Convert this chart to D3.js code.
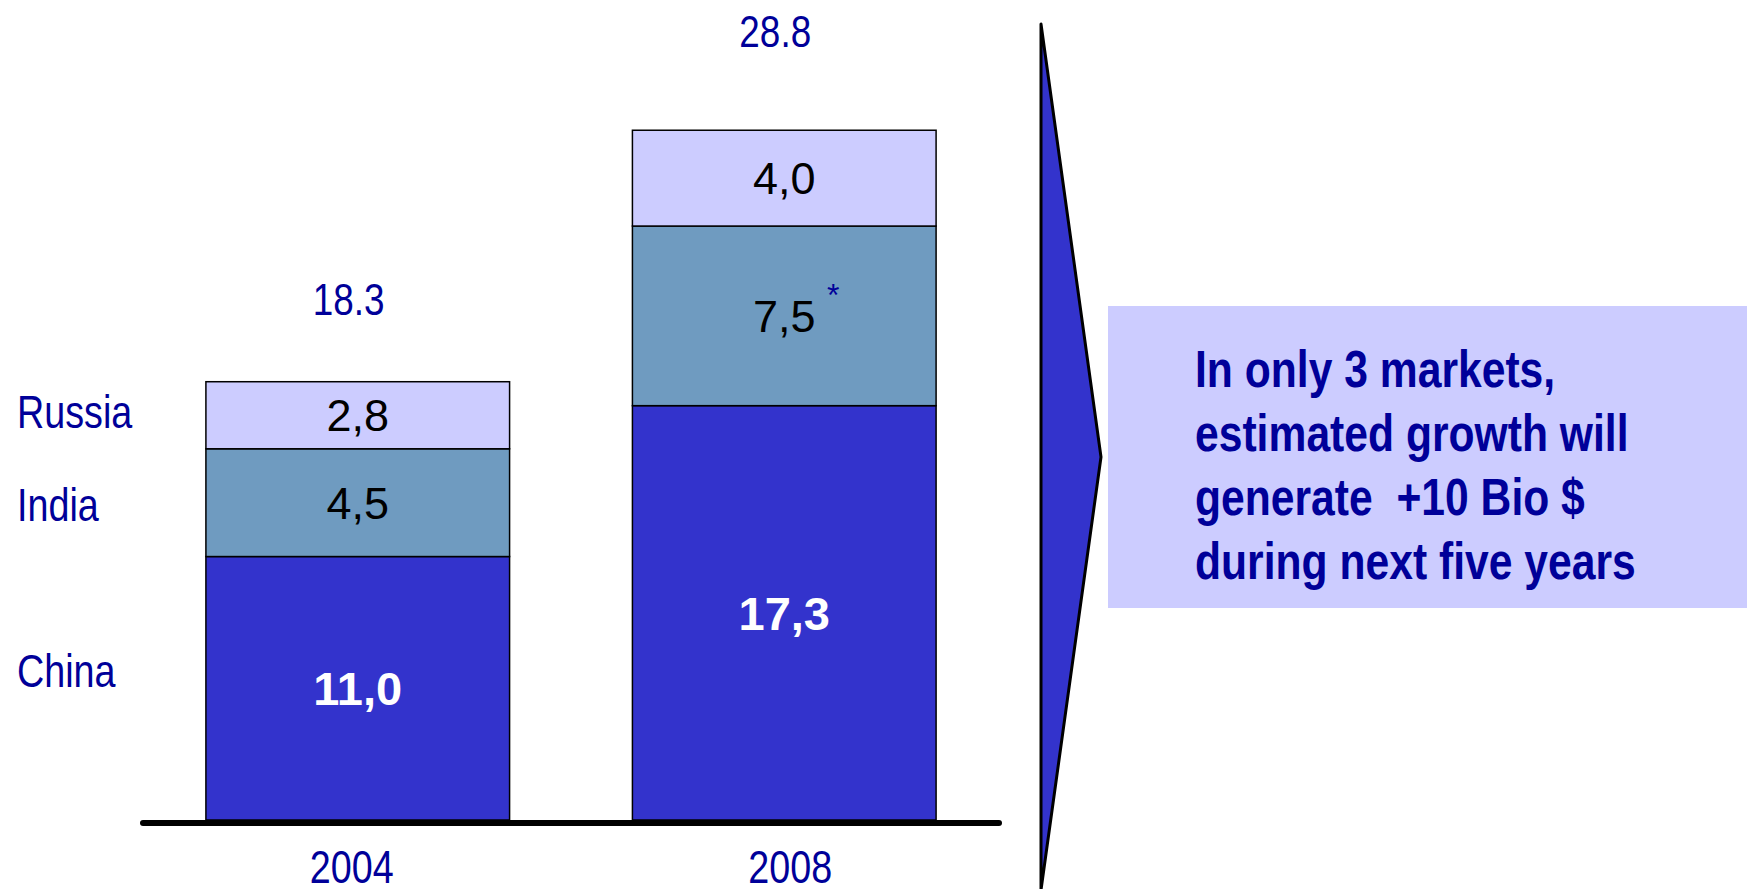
<!DOCTYPE html>
<html>
<head>
<meta charset="utf-8">
<script src="https://cdn.jsdelivr.net/npm/d3@7"></script>
<style>
  body { margin: 0; background: #fff; }
  text { font-family: "Liberation Sans", Arial, sans-serif; }
</style>
</head>
<body>
<script>
var years = ["2004", "2008"];
var markets = ["China", "India", "Russia"];
var china = [11.0, 17.3];
var india = [4.5, 7.5];
var russia = [2.8, 4.0];
var totals = [18.3, 28.8];
var segLabels = [["11,0", "17,3"], ["4,5", "7,5"], ["2,8", "4,0"]];
var message = ["In only 3 markets,", "estimated growth will", "generate  +10 Bio $", "during next five years"];

var colors = ["#3333cc", "#6f9bc0", "#ccccff"];
var textBlue = "#000099";

var svgWidth = 1747;
var svgHeight = 889;
// the slide text is horizontally squeezed, no narrow font here so scale it
var squeeze = 0.82;

var svg = d3.select("body")
  .append("svg")
  .attr("width", svgWidth)
  .attr("height", svgHeight);

function narrowX(sel, xf) {
  sel.attr("x", function(d, i) { return xf(d, i) / squeeze; })
    .attr("transform", "scale(" + squeeze + ",1)");
}

var x = d3.scaleBand()
  .domain(years)
  .range([143, 999])
  .paddingInner(0.288)
  .paddingOuter(0.1475);

var y = d3.scaleLinear()
  .domain([0, 30])
  .range([820, 101.5]);

// stack the three markets per year
var rows = years.map(function(yr, i) {
  return { year: yr, China: china[i], India: india[i], Russia: russia[i] };
});
var stack = d3.stack().keys(markets)(rows);

var layers = svg.selectAll("g.layer")
  .data(stack)
  .enter()
  .append("g")
  .attr("class", "layer")
  .attr("fill", function(d, i) { return colors[i]; });

layers.selectAll("rect")
  .data(function(d) { return d; })
  .enter()
  .append("rect")
  .attr("x", function(d) { return x(d.data.year); })
  .attr("y", function(d) { return y(d[1]); })
  .attr("width", x.bandwidth())
  .attr("height", function(d) { return y(d[0]) - y(d[1]); })
  .attr("stroke", "#000")
  .attr("stroke-width", 1.5);

// labels inside segments
layers.each(function(layer, li) {
  d3.select(this).selectAll("text")
    .data(layer)
    .enter()
    .append("text")
    .attr("x", function(d) { return x(d.data.year) + x.bandwidth() / 2; })
    .attr("y", function(d) { return (y(d[0]) + y(d[1])) / 2; })
    .attr("dy", "0.36em")
    .attr("text-anchor", "middle")
    .style("font-size", li === 0 ? "47px" : "45px")
    .style("font-weight", li === 0 ? "bold" : "normal")
    .attr("fill", li === 0 ? "#fff" : "#000")
    .text(function(d, i) { return segLabels[li][i]; });
});

// asterisk next to India 2008
var seg = stack[1][1];
svg.append("text")
  .attr("x", x(seg.data.year) + x.bandwidth() / 2 + 49)
  .attr("y", (y(seg[0]) + y(seg[1])) / 2 - 10)
  .attr("text-anchor", "middle")
  .style("font-size", "32px")
  .attr("fill", textBlue)
  .text("*");

// totals above bars
var totalGap = [67, 83];
svg.selectAll("text.total")
  .data(totals)
  .enter()
  .append("text")
  .attr("class", "total")
  .call(narrowX, function(d, i) { return x(years[i]) + x.bandwidth() / 2 - 9; })
  .attr("y", function(d, i) { return y(d) - totalGap[i]; })
  .attr("text-anchor", "middle")
  .style("font-size", "45px")
  .attr("fill", textBlue)
  .text(function(d) { return d.toFixed(1); });

// market names on the left, next to the 2004 bar
var nameNudge = [-18, 2, -4];
svg.selectAll("text.market")
  .data(stack)
  .enter()
  .append("text")
  .attr("class", "market")
  .call(narrowX, function() { return 17; })
  .attr("y", function(d, i) { return (y(d[0][0]) + y(d[0][1])) / 2 + nameNudge[i]; })
  .attr("dy", "0.36em")
  .style("font-size", "46px")
  .attr("fill", textBlue)
  .text(function(d) { return d.key; });

// baseline
svg.append("line")
  .attr("x1", 143).attr("x2", 999)
  .attr("y1", y(0) + 3).attr("y2", y(0) + 3)
  .attr("stroke", "#000")
  .attr("stroke-width", 6)
  .attr("stroke-linecap", "round");

// year labels
var yearNudge = [-6, 6];
var xAxis = d3.axisBottom(x).tickSize(0).tickPadding(0);
var axisG = svg.append("g")
  .attr("transform", "translate(0," + (y(0) + 63) + ")")
  .call(xAxis);
axisG.select(".domain").remove();
axisG.selectAll("text")
  .attr("dy", 0)
  .attr("x", function(d, i) { return yearNudge[i] / squeeze; })
  .attr("transform", "scale(" + squeeze + ",1)")
  .style("font-family", "'Liberation Sans', Arial, sans-serif")
  .style("font-size", "46px")
  .attr("fill", textBlue);

// arrow
svg.append("path")
  .attr("d", "M1041,24 L1101,457 L1041,890 Z")
  .attr("fill", "#3333cc")
  .attr("stroke", "#000")
  .attr("stroke-width", 3)
  .attr("stroke-linejoin", "round");

// message box
svg.append("rect")
  .attr("x", 1108)
  .attr("y", 306)
  .attr("width", svgWidth - 1108)
  .attr("height", 302)
  .attr("fill", "#ccccff");

svg.append("g").selectAll("text")
  .data(message)
  .enter()
  .append("text")
  .call(narrowX, function() { return 1195; })
  .attr("y", function(d, i) { return 387 + i * 64; })
  .style("font-size", "52px")
  .style("font-weight", "bold")
  .style("white-space", "pre")
  .attr("xml:space", "preserve")
  .attr("fill", textBlue)
  .text(function(d) { return d; });
</script>
</body>
</html>
